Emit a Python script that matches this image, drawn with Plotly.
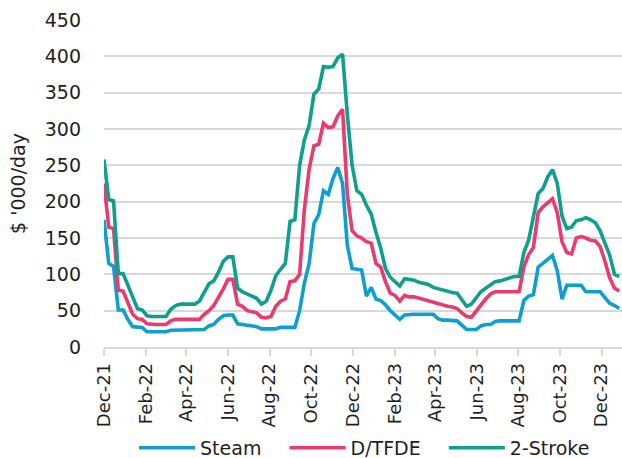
import pandas as pd
import plotly.graph_objects as go

# Weekly observations starting 1 Dec 2021
dates = pd.date_range("2021-12-01", periods=109, freq="7D")

steam = [175, 115, 111, 51, 51, 38, 28, 27, 27, 21,
         21, 21, 21, 21, 23, 23, 23, 23, 23, 23,
         23, 24, 29, 31, 38, 43, 44, 44, 32, 31,
         30, 29, 28, 25, 25, 25, 25, 27, 27, 27,
         27, 50, 88, 115, 170, 182, 215, 210, 232, 247,
         225, 140, 108, 107, 106, 70, 82, 66, 64, 58,
         50, 44, 38, 44, 45, 45, 45, 45, 45, 45,
         39, 37, 37, 37, 36, 30, 24, 24, 24, 29,
         31, 31, 35, 36, 36, 36, 36, 36, 64, 70,
         72, 110, 115, 120, 126, 105, 66, 85, 85, 85,
         85, 76, 76, 76, 76, 68, 60, 57, 53]

dtfde = [225, 165, 163, 78, 77, 60, 45, 39, 38, 32,
         31, 31, 31, 31, 36, 38, 38, 38, 38, 38,
         38, 45, 50, 57, 68, 80, 93, 93, 59, 56,
         50, 48, 47, 41, 40, 42, 56, 63, 66, 90,
         91, 100, 190, 245, 277, 279, 308, 302, 303, 318,
         327, 210, 160, 153, 150, 145, 143, 115, 110, 90,
         74, 71, 63, 71, 69, 69, 67, 66, 64, 61,
         59, 57, 56, 55, 53, 47, 42, 41, 50, 58,
         66, 73, 76, 76, 76, 76, 76, 76, 110, 127,
         137, 185, 193, 198, 204, 185, 145, 130, 128, 150,
         152, 150, 147, 146, 138, 118, 95, 81, 77]

two_stroke = [258, 203, 201, 101, 101, 84, 67, 53, 51, 43,
              42, 42, 42, 42, 52, 57, 59, 59, 59, 59,
              63, 75, 87, 91, 103, 118, 124, 124, 81, 76,
              73, 70, 67, 59, 63, 78, 98, 107, 115, 173,
              175, 250, 285, 305, 348, 355, 386, 385, 386, 398,
              403, 320, 250, 215, 210, 195, 183, 158, 136, 108,
              96, 90, 84, 94, 93, 92, 89, 88, 86, 82,
              80, 79, 77, 75, 74, 65, 56, 59, 68, 76,
              81, 85, 90, 91, 93, 96, 97, 97, 130, 147,
              180, 211, 218, 234, 244, 225, 180, 163, 165, 174,
              175, 178, 175, 171, 160, 143, 126, 100, 97]

series_names = ["Steam", "D/TFDE", "2-Stroke"]
series_colors = ["#0d9fd2", "#eb3a6e", "#0f9f8e"]
y_ticks = [0, 50, 100, 150, 200, 250, 300, 350, 400, 450]

FONT = "DejaVu Sans"
TXT = "#1f1f1f"
GRID = "#d9d9d9"
PADS = ["\u00a0" * 3, "\u00a0" * 3, ""]  # extra spacing between legend entries

fig = go.Figure()
for name, vals, col, pad in zip(series_names, [steam, dtfde, two_stroke], series_colors, PADS):
    fig.add_trace(go.Scatter(
        x=dates, y=vals, name=name + pad, mode="lines",
        line=dict(color=col, width=3.6),
    ))

fig.update_layout(
    width=622, height=458,
    margin=dict(l=104, r=0, t=20, b=111, autoexpand=False),
    paper_bgcolor="white", plot_bgcolor="white",
    font=dict(family=FONT, size=18, color=TXT),
    showlegend=True,
    legend=dict(
        orientation="h", x=0.058, xanchor="left",
        yref="container", y=0.022, yanchor="middle",
        font=dict(family=FONT, size=19, color=TXT),
        itemwidth=56, bgcolor="rgba(0,0,0,0)",
    ),
)

fig.update_xaxes(
    range=["2021-12-01", "2023-12-31"],
    tick0="2021-12-01", dtick="M2", tickformat="%b-%y",
    tickangle=-90,
    showgrid=False,
    showline=True, linecolor=GRID, linewidth=1.5,
    ticks="outside", tickcolor=GRID, ticklen=7, tickwidth=1.5,
    tickfont=dict(family=FONT, size=18, color=TXT),
    zeroline=False,
)

fig.update_yaxes(
    range=[0, 450],
    tickvals=y_ticks,
    showgrid=True, gridcolor=GRID, gridwidth=1.5,
    zeroline=False, showline=False,
    ticks="", ticklabelstandoff=22,
    tickfont=dict(family=FONT, size=19, color=TXT),
    title=dict(text="$ '000/day", font=dict(family=FONT, size=19, color=TXT), standoff=14),
)

fig.write_html(
    "out.html",
    config={"displayModeBar": False},
    post_script="document.body.style.margin='0';document.body.style.overflow='hidden';",
)
